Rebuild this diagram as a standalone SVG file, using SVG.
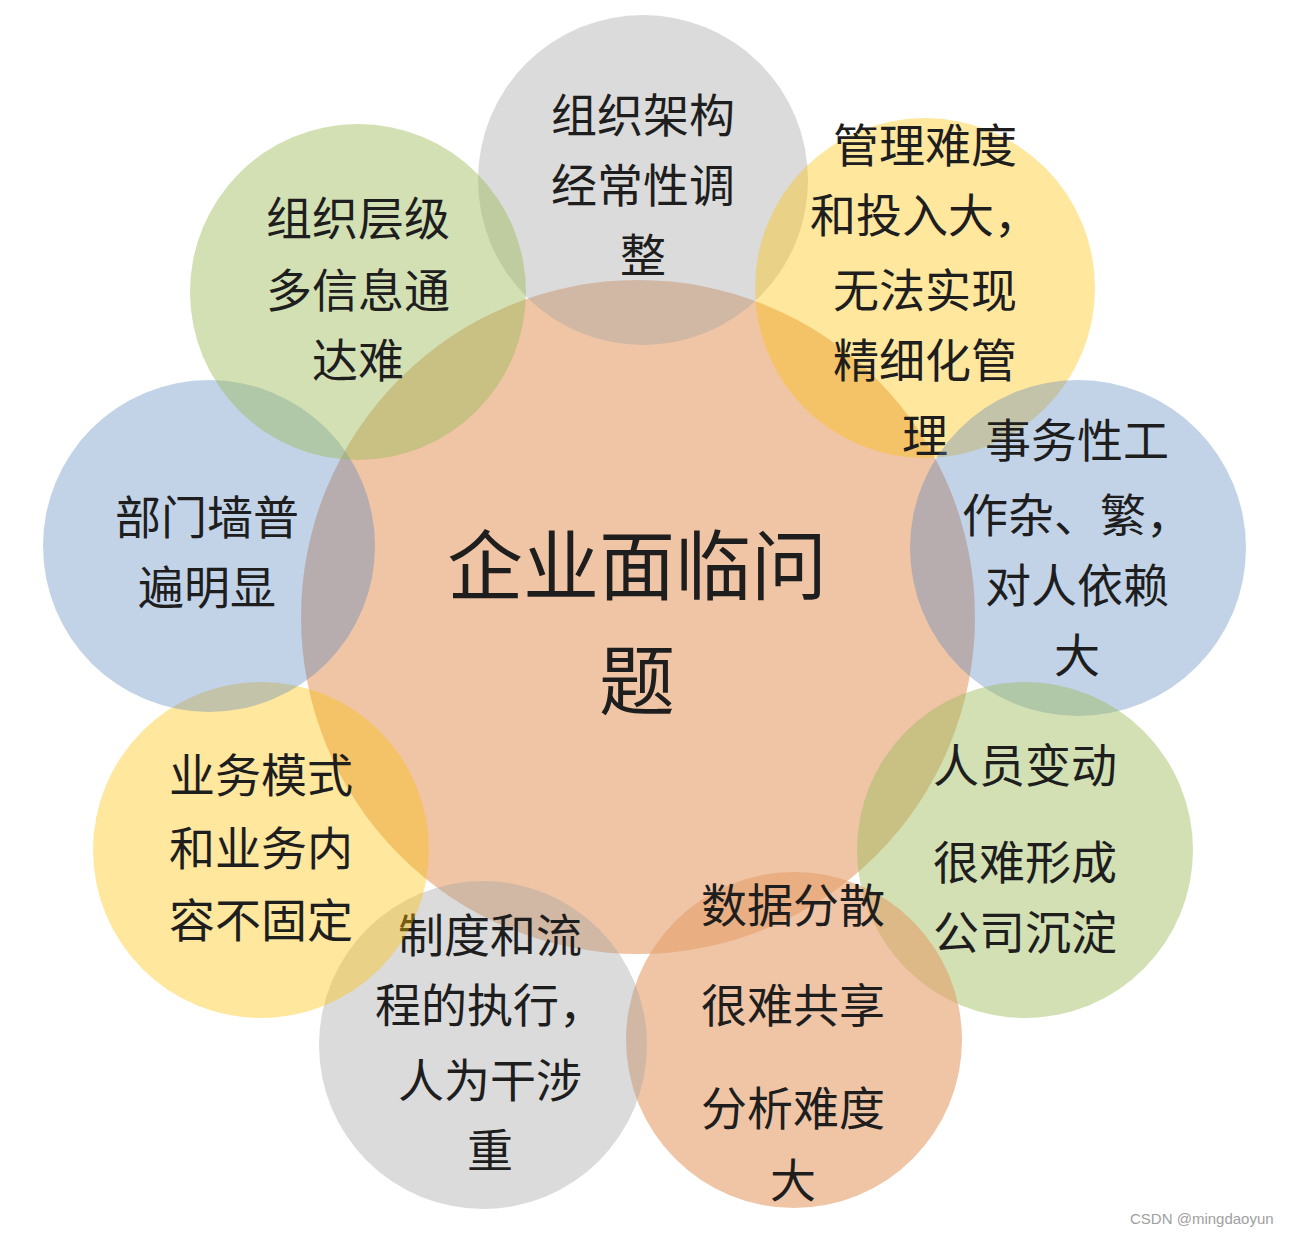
<svg xmlns="http://www.w3.org/2000/svg" width="1290" height="1236" viewBox="0 0 1290 1236">
<style>
.t{font-family:"Noto Sans CJK SC","Noto Sans",sans-serif;font-size:46px;fill:#1e1e1e;text-anchor:middle}
.c{font-size:76px}
.w{font-family:"Liberation Sans",Arial,sans-serif;font-size:15px;fill:#a0a0a0}
.or{fill:#E59E6A;fill-opacity:.6}
.gy{fill:#A6A6A6;fill-opacity:.4}
.gr{fill:#9BBB59;fill-opacity:.45}
.ye{fill:#FFC000;fill-opacity:.38}
.bl{fill:#4F81BD;fill-opacity:.35}
</style>
<rect width="1290" height="1236" fill="#ffffff"/>
<g id="center"><circle class="or" cx="638" cy="617" r="337"/>
<text class="t c" x="637" y="594">企业面临问</text><text class="t c" x="637" y="709">题</text></g>
<g id="n1"><circle class="gy" cx="643" cy="180" r="165"/>
<text class="t" x="643" y="132">组织架构</text><text class="t" x="643" y="202">经常性调</text><text class="t" x="643" y="272">整</text></g>
<g id="n2"><circle class="ye" cx="925" cy="288" r="170"/>
<text class="t" x="925" y="162">管理难度</text><text class="t" x="925" y="232">和投入大，</text><text class="t" x="925" y="307">无法实现</text><text class="t" x="925" y="377">精细化管</text><text class="t" x="925" y="452">理</text></g>
<g id="n3"><circle class="bl" cx="1078" cy="548" r="168"/>
<text class="t" x="1077" y="457">事务性工</text><text class="t" x="1077" y="532">作杂、繁，</text><text class="t" x="1077" y="602">对人依赖</text><text class="t" x="1077" y="672">大</text></g>
<g id="n4"><circle class="gr" cx="1025" cy="850" r="168"/>
<text class="t" x="1025" y="782">人员变动</text><text class="t" x="1025" y="879">很难形成</text><text class="t" x="1025" y="949">公司沉淀</text></g>
<g id="n5"><circle class="or" cx="794" cy="1040" r="168"/>
<text class="t" x="793" y="922">数据分散</text><text class="t" x="793" y="1022">很难共享</text><text class="t" x="793" y="1125">分析难度</text><text class="t" x="793" y="1197">大</text></g>
<g id="n6"><circle class="gy" cx="483" cy="1045" r="164"/>
<text class="t" x="490" y="952">制度和流</text><text class="t" x="490" y="1022">程的执行，</text><text class="t" x="490" y="1097">人为干涉</text><text class="t" x="490" y="1167">重</text></g>
<g id="n7"><circle class="ye" cx="261" cy="850" r="168"/>
<text class="t" x="261" y="792">业务模式</text><text class="t" x="261" y="865">和业务内</text><text class="t" x="261" y="937">容不固定</text></g>
<g id="n8"><circle class="bl" cx="209" cy="546" r="166"/>
<text class="t" x="207" y="534">部门墙普</text><text class="t" x="207" y="604">遍明显</text></g>
<g id="n9"><circle class="gr" cx="358" cy="292" r="168"/>
<text class="t" x="358" y="235">组织层级</text><text class="t" x="358" y="307">多信息通</text><text class="t" x="358" y="377">达难</text></g>
<g id="connectors"></g>
<text class="w" x="1130" y="1224">CSDN @mingdaoyun</text>
</svg>
